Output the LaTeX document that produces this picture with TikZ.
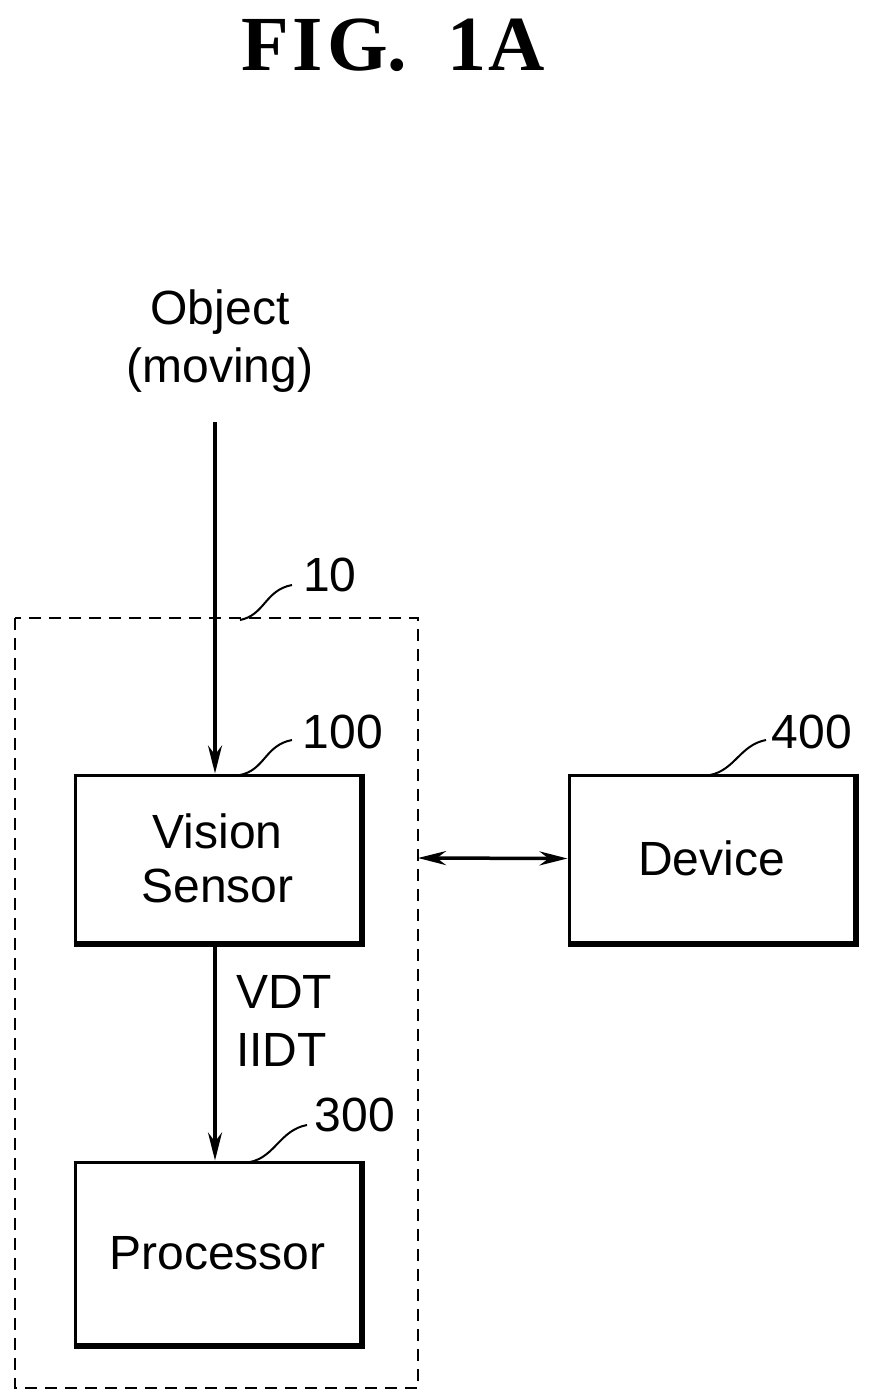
\documentclass[tikz,border=0pt]{standalone}
\usepackage{fontspec}
\setmainfont{Liberation Sans}
\newfontfamily\titlefont{Liberation Serif}
\usetikzlibrary{arrows.meta}
\begin{document}
\begin{tikzpicture}[x=1pt,y=-1pt,
  lbl/.style={font=\fontsize{48}{54}\selectfont, inner sep=0pt},
  blk/.style={draw, line width=3pt, minimum width=285pt, minimum height=167pt, inner sep=0pt, font=\fontsize{48}{54}\selectfont, align=center},
  lead/.style={line width=2pt},
  arr/.style={line width=3.5pt, -{Stealth[length=28pt,width=14pt]}}]
\useasboundingbox (0,0) rectangle (877,1394);
\node[font=\titlefont\bfseries\fontsize{78}{84}\selectfont] (title) at (393,45) {F\kern4pt I\kern4pt G.\kern40pt 1\kern2pt A};
\node[lbl] (obj) at (220,312) {Object};
\node[lbl] (mov) at (220,370) {(moving)};
\coordinate (objend) at (215,422);
\draw[dashed, line width=2pt, dash pattern=on 12pt off 8pt] (15,618) rectangle (418,1388);
\coordinate (sys) at (418,858);
\node[blk] (vs) at (217.5,858.5) {Vision\\Sensor};
\node[blk, minimum height=182pt] (pr) at (217.5,1253) {Processor};
\node[blk] (dev) at (711.5,858.5) {Device};
\foreach \n in {vs,pr,dev}{
  \draw[line width=5pt] ([xshift=1pt]\n.north east) -- ([xshift=1pt,yshift=-1pt]\n.south east) -- ([yshift=-1pt]\n.south west);
}
\draw[arr] (objend) -- (vs.north -| objend);
\draw[arr] (vs.south -| objend) -- (pr.north -| objend);
\node[lbl, anchor=west] (vdt) at (236,992) {VDT};
\node[lbl, anchor=west] (iidt) at (236,1050) {IIDT};
\draw[line width=3.5pt, {Stealth[length=28pt,width=14pt]}-{Stealth[length=28pt,width=14pt]}] (sys) -- (dev.west);
\node[lbl] (l10) at (330,575) {10};
\draw[lead] (240,620) .. controls (265,615) and (265,590) .. (292,585);
\node[lbl] (l100) at (343,732) {100};
\draw[lead] (240,775) .. controls (265,770) and (265,745) .. (292,740);
\node[lbl] (l300) at (355,1115) {300};
\draw[lead] (250,1162) .. controls (275,1157) and (280,1130) .. (307,1125);
\node[lbl] (l400) at (812,732) {400};
\draw[lead] (710,775) .. controls (735,770) and (740,745) .. (766,740);
\end{tikzpicture}
\end{document}
